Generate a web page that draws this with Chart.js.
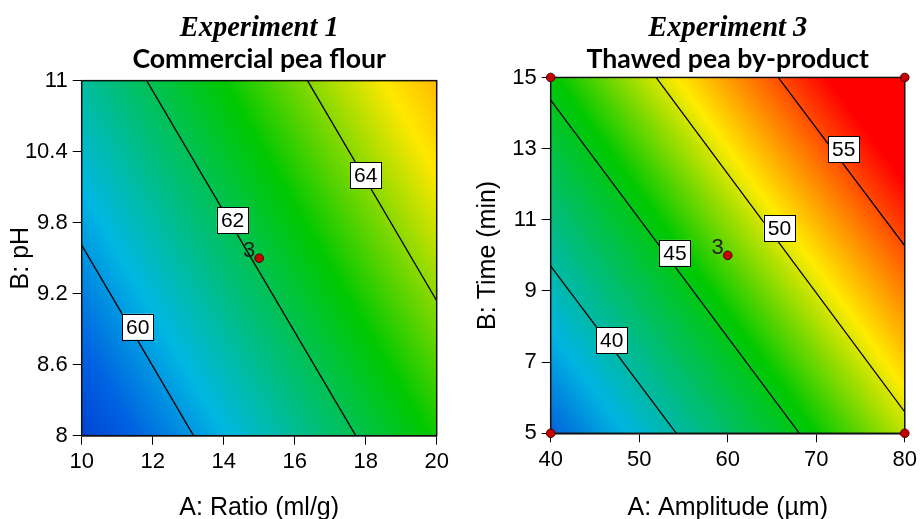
<!DOCTYPE html>
<html><head><meta charset="utf-8">
<script src="https://cdn.jsdelivr.net/npm/chart.js@4.4.1/dist/chart.umd.min.js"></script>
<style>
html,body{margin:0;padding:0;background:#fff;}
#wrap{position:relative;width:921px;height:519px;overflow:hidden;background:#fff;}
canvas{position:absolute;top:0;}
#c1{left:0;} #c2{left:460px;}
</style></head><body>
<div id="wrap"><canvas id="c1" width="460" height="519"></canvas><canvas id="c2" width="461" height="519"></canvas></div>
<script>
// ---------- Experiment 1 : Commercial pea flour ----------
const title1 = 'Experiment 1';
const subtitle1 = 'Commercial pea flour';
const xLabel1 = 'A: Ratio (ml/g)';
const yLabel1 = 'B: pH';
const xTicks1 = [10, 12, 14, 16, 18, 20];
const yTicks1 = [8, 8.6, 9.2, 9.8, 10.4, 11];
// response at a coarse grid (rows = y values)
const gridX1 = [10, 15, 20];
const gridY1 = [8, 9.5, 11];
const gridZ1 = [
  [58.6, 60.8, 63.0],
  [59.9, 62.1, 64.3],
  [61.15, 63.35, 65.55]
];
const contourLevels1 = [60, 62, 64];
const contourX0_1 = [10, 11.83, 16.36];
const contourY0_1 = [9.61, 11, 11];
const contourX1_1 = [13.15, 17.72, 20];
const contourY1_1 = [8, 8, 9.14];
const labelX1 = [11.58, 14.25, 18.0];
const labelY1 = [8.92, 9.82, 10.2];
const designX1 = [15];
const designY1 = [9.5];
const centerX1 = [15];
const centerY1 = [9.5];
const centerCount1 = ['3'];

// ---------- Experiment 3 : Thawed pea by-product ----------
const title2 = 'Experiment 3';
const subtitle2 = 'Thawed pea by-product';
const xLabel2 = 'A: Amplitude (\u00b5m)';
const yLabel2 = 'B: Time (min)';
const xTicks2 = [40, 50, 60, 70, 80];
const yTicks2 = [5, 7, 9, 11, 13, 15];
const gridX2 = [40, 60, 80];
const gridY2 = [5, 10, 15];
const gridZ2 = [
  [34.9, 42.2, 49.5],
  [40.3, 47.6, 54.7],
  [45.6, 52.9, 60.2]
];
const contourLevels2 = [40, 45, 50, 55];
const contourX0_2 = [40, 40, 51.9, 65.7];
const contourY0_2 = [9.70, 14.36, 15, 15];
const contourX1_2 = [54.2, 68.1, 80, 80];
const contourY1_2 = [5, 5, 5.6, 10.27];
const labelX2 = [46.9, 54.04, 65.84, 73.1];
const labelY2 = [7.62, 10.07, 10.76, 12.98];
const designX2 = [40, 40, 80, 80, 60];
const designY2 = [5, 15, 5, 15, 10];
const centerX2 = [60];
const centerY2 = [10];
const centerCount2 = ['3'];

// ---------- colour maps (style) ----------
const stops1 = [[58.0,[0,40,198]],[59.3,[0,100,225]],[60.4,[0,183,226]],[62.9,[0,200,0]],[64.9,[255,232,0]],[68.2,[255,0,0]]];
const stops2 = [[33.5,[0,60,215]],[38.0,[0,180,225]],[45.8,[0,200,0]],[50.8,[255,235,0]],[57.0,[255,0,0]]];

function colorAt(stops, v) {
  if (v <= stops[0][0]) return stops[0][1];
  for (let i = 1; i < stops.length; i++) {
    if (v <= stops[i][0]) {
      const a = stops[i-1], b = stops[i];
      const t = (v - a[0]) / (b[0] - a[0]);
      return [0,1,2].map(k => Math.round(a[1][k] + (b[1][k]-a[1][k]) * t));
    }
  }
  return stops[stops.length-1][1];
}
function seg(arr, v) {
  let i = 0;
  while (i < arr.length - 2 && v > arr[i+1]) i++;
  return [i, (v - arr[i]) / (arr[i+1] - arr[i])];
}
function bilinear(gx, gy, gz, x, y) {
  const [i, tx] = seg(gx, x), [j, ty] = seg(gy, y);
  const z00 = gz[j][i], z01 = gz[j][i+1], z10 = gz[j+1][i], z11 = gz[j+1][i+1];
  return (z00*(1-tx) + z01*tx) * (1-ty) + (z10*(1-tx) + z11*tx) * ty;
}

const fieldPlugin = {
  id: 'field',
  beforeDatasetsDraw(chart, args, o) {
    const {ctx, chartArea: a, scales: {x, y}} = chart;
    const L = Math.round(a.left), T = Math.round(a.top);
    const W = Math.round(a.right) - L, H = Math.round(a.bottom) - T;
    const img = ctx.createImageData(W, H);
    for (let j = 0; j < H; j++) {
      const yv = y.getValueForPixel(T + j + 0.5);
      for (let i = 0; i < W; i++) {
        const xv = x.getValueForPixel(L + i + 0.5);
        const c = colorAt(o.stops, bilinear(o.gx, o.gy, o.gz, xv, yv));
        const k = (j * W + i) * 4;
        img.data[k] = c[0]; img.data[k+1] = c[1]; img.data[k+2] = c[2]; img.data[k+3] = 255;
      }
    }
    ctx.putImageData(img, L, T);
    ctx.save();
    ctx.strokeStyle = '#111'; ctx.lineWidth = 1.5;
    ctx.strokeRect(a.left, a.top, a.right - a.left, a.bottom - a.top);
    ctx.restore();
  }
};

const annotPlugin = {
  id: 'annot',
  afterDatasetsDraw(chart, args, o) {
    const {ctx, scales: {x, y}} = chart;
    ctx.save();
    ctx.font = '21px "Liberation Sans", Arial, sans-serif';
    ctx.textAlign = 'center'; ctx.textBaseline = 'middle';
    o.levels.forEach((lv, i) => {
      const px = x.getPixelForValue(o.lx[i]), py = y.getPixelForValue(o.ly[i]);
      const t = String(lv);
      const w = ctx.measureText(t).width + 8, h = 26;
      ctx.fillStyle = '#fff';
      ctx.fillRect(px - w/2, py - h/2, w, h);
      ctx.strokeStyle = '#000'; ctx.lineWidth = 1;
      ctx.strokeRect(Math.round(px - w/2) + 0.5, Math.round(py - h/2) + 0.5, Math.round(w), h);
      ctx.fillStyle = '#000';
      ctx.fillText(t, px, py + 1);
    });
    ctx.font = '22px "Liberation Sans", Arial, sans-serif';
    ctx.textAlign = 'right';
    o.cx.forEach((v, i) => {
      ctx.fillStyle = '#222';
      ctx.fillText(o.ct[i], x.getPixelForValue(v) - 4, y.getPixelForValue(o.cy[i]) - 7);
    });
    ctx.restore();
  }
};

function makeChart(id, c) {
  const datasets = [];
  c.levels.forEach((lv, i) => {
    datasets.push({
      label: 'contour ' + lv,
      data: [{x: c.x0[i], y: c.y0[i]}, {x: c.x1[i], y: c.y1[i]}],
      showLine: true, borderColor: '#000', borderWidth: 1.3, pointRadius: 0, fill: false
    });
  });
  datasets.push({
    label: 'design points',
    data: c.dx.map((v, i) => ({x: v, y: c.dy[i]})),
    pointRadius: 4.3, pointBackgroundColor: '#c40000', pointBorderColor: '#4a0000',
    pointBorderWidth: 1, showLine: false, clip: false
  });
  const tickFont = {family: '"Liberation Sans", Arial, sans-serif', size: 22};
  const titleFont = {family: '"Liberation Sans", Arial, sans-serif', size: 25, lineHeight: 1.2};
  const grid = {display: true, drawOnChartArea: false, drawTicks: true, tickLength: 9, color: '#000', lineWidth: 1};
  return new Chart(document.getElementById(id), {
    type: 'scatter',
    data: {datasets},
    options: {
      responsive: false, animation: false, devicePixelRatio: 1,
      layout: {padding: {top: 0, left: 0, right: c.padRight, bottom: 0}},
      plugins: {
        legend: {display: false}, tooltip: {enabled: false},
        title: {display: true, fullSize: false, text: c.title, color: '#000',
          font: {family: '"Liberation Serif", "Times New Roman", serif', size: 28.5, style: 'italic', weight: 'bold', lineHeight: 1.1},
          padding: {top: 13, bottom: 0}},
        subtitle: {display: true, fullSize: false, text: c.subtitle, color: '#000',
          font: {family: 'Lato, "Liberation Sans", sans-serif', size: 26.7, weight: 'bold', lineHeight: 1.15},
          padding: {top: 0, bottom: c.subPad}},
        field: {gx: c.gx, gy: c.gy, gz: c.gz, stops: c.stops},
        annot: {levels: c.levels, lx: c.lx, ly: c.ly, cx: c.cx, cy: c.cy, ct: c.ct}
      },
      scales: {
        x: {
          type: 'linear', min: c.xTicks[0], max: c.xTicks[c.xTicks.length-1],
          afterBuildTicks: s => { s.ticks = c.xTicks.map(v => ({value: v})); },
          afterFit: s => { s.height = c.xH; },
          grid, border: {display: true, color: '#111', width: 1.5},
          ticks: {color: '#000', font: tickFont, padding: 4, autoSkip: false, maxRotation: 0, callback: v => String(v)},
          title: {display: true, text: c.xLabel, color: '#000', font: titleFont, padding: {top: 0, bottom: -4}}
        },
        y: {
          type: 'linear', min: c.yTicks[0], max: c.yTicks[c.yTicks.length-1],
          afterBuildTicks: s => { s.ticks = c.yTicks.map(v => ({value: v})); },
          afterFit: s => { s.width = c.yW; },
          grid, border: {display: true, color: '#111', width: 1.5},
          ticks: {color: '#000', font: tickFont, padding: 5, autoSkip: false, callback: v => String(v)},
          title: {display: true, text: c.yLabel, color: '#000', font: titleFont, padding: {top: c.yTitlePad, bottom: 0}}
        }
      }
    },
    plugins: [fieldPlugin, annotPlugin]
  });
}

makeChart('c1', {
  title: title1, subtitle: subtitle1, xLabel: xLabel1, yLabel: yLabel1,
  xTicks: xTicks1, yTicks: yTicks1, gx: gridX1, gy: gridY1, gz: gridZ1, stops: stops1,
  levels: contourLevels1, x0: contourX0_1, y0: contourY0_1, x1: contourX1_1, y1: contourY1_1,
  lx: labelX1, ly: labelY1, dx: designX1, dy: designY1, cx: centerX1, cy: centerY1, ct: centerCount1,
  padRight: 23.3, subPad: 5.6, xH: 83.3, yW: 81.7, yTitlePad: 6
});
makeChart('c2', {
  title: title2, subtitle: subtitle2, xLabel: xLabel2, yLabel: yLabel2,
  xTicks: xTicks2, yTicks: yTicks2, gx: gridX2, gy: gridY2, gz: gridZ2, stops: stops2,
  levels: contourLevels2, x0: contourX0_2, y0: contourY0_2, x1: contourX1_2, y1: contourY1_2,
  lx: labelX2, ly: labelY2, dx: designX2, dy: designY2, cx: centerX2, cy: centerY2, ct: centerCount2,
  padRight: 14.3, subPad: 2.4, xH: 85.7, yW: 90.7, yTitlePad: 13
});
</script>
</body></html>
